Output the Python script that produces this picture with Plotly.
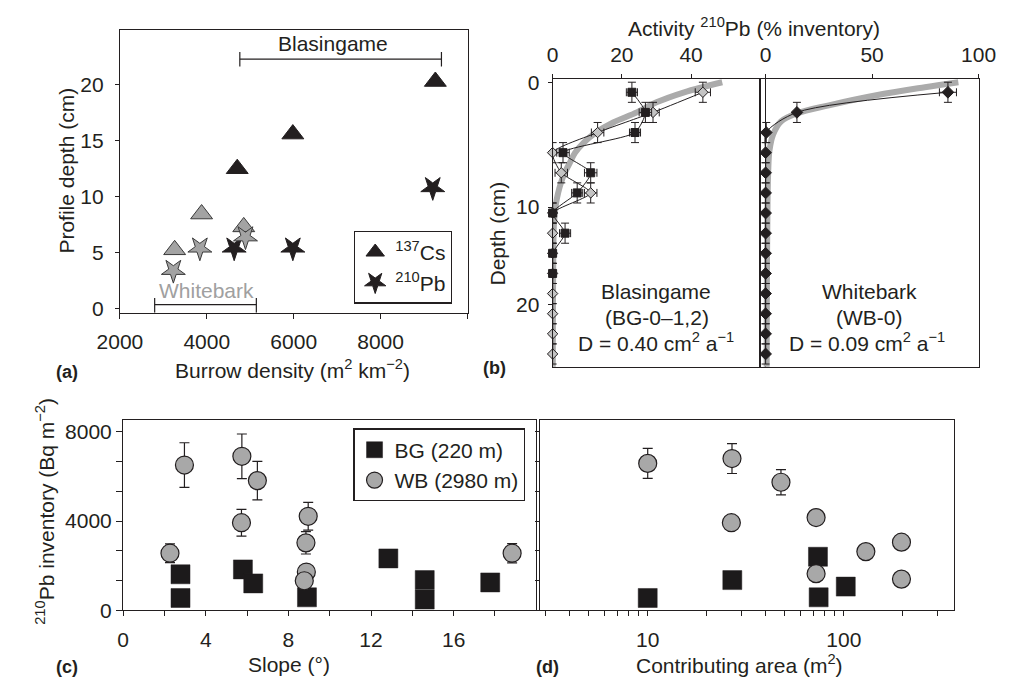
import plotly.graph_objects as go

W, H = 1011, 690
FONT = "Liberation Sans, Arial, Helvetica, sans-serif"
INK = "#231f20"
GRAY = "#a3a3a3"
LGRAY = "#c4c4c4"
MODEL = "#ababab"
FS = 21

# ---------------- data: panel (a) ----------------
cs_bg_density = [4700, 5980, 9260]
cs_bg_depth = [12.5, 15.6, 20.3]
cs_wb_density = [3260, 3880, 4850]
cs_wb_depth = [5.25, 8.45, 7.3]
pb_bg_density = [4630, 5980, 9200]
pb_bg_depth = [5.4, 5.4, 10.8]
pb_wb_density = [3230, 3840, 4890]
pb_wb_depth = [3.4, 5.4, 6.4]
bracket_bg_x = [4760, 9400]
bracket_bg_y = 22.3
bracket_wb_x = [2800, 5140]
bracket_wb_y = 0.35

# ---------------- data: panel (b) ----------------
bg_sq_depth = [1, 3, 5, 7, 9, 11, 13, 15, 17, 19]
bg_sq_act = [22.9, 26.8, 23.8, 3.0, 11.0, 7.1, 0.0, 3.6, 0.0, 0.0]
bg_sq_err = [1.6, 1.8, 1.6, 1.8, 1.8, 1.6, 0, 1.6, 0, 0]
bg_di_depth = [1, 3, 5, 7, 9, 11, 13, 15, 17, 19, 21, 23, 25, 27]
bg_di_act = [43.4, 29.0, 13.0, 0.0, 2.5, 11.0, 0, 0, 0, 0, 0, 0, 0, 0]
bg_di_err = [2.2, 1.8, 1.8, 0, 1.8, 1.8, 0, 0, 0, 0, 0, 0, 0, 0]
bg_model_depth = [0, 1, 2, 3, 4, 5, 6, 7, 8, 9, 10, 11, 12, 14, 17, 22, 28.3]
bg_model_act = [49, 38, 30, 24.3, 17.5, 12.5, 9, 6.5, 5, 3.5, 2.4, 1.6, 1.0, 0.4, 0.2, 0.1, 0.05]
wb_depth = [1, 3, 5, 7, 9, 11, 13, 15, 17, 19, 21, 23, 25, 27]
wb_act = [85.6, 14.7, 0.3, 0, 0, 0, 0, 0, 0, 0, 0, 0, 0, 0]
wb_err = [4, 0, 0, 0, 0, 0, 0, 0, 0, 0, 0, 0, 0, 0]
wb_model_depth = [0, 0.5, 1.3, 2.3, 3.1, 3.9, 5.2, 6.8, 9, 12, 20, 28.3]
wb_model_act = [90.5, 74.8, 52, 29.7, 14.7, 7.2, 3.5, 1.8, 1.2, 0.9, 0.6, 0.5]
depth_err = 1.0
depth_tickvals = [0, 12.4, 22.1]
depth_ticktext = ["0", "10", "20"]

# ---------------- data: panels (c), (d) ----------------
bg_slope = [2.78, 2.78, 5.80, 6.30, 8.90, 12.84, 14.60, 14.60, 17.77]
bg_inv_c = [1613, 550, 1832, 1204, 580, 2325, 1352, 480, 1248]
wb_slope = [2.97, 5.75, 6.50, 5.73, 8.96, 8.85, 8.87, 8.77, 2.27, 18.83]
wb_inv_c = [6513, 6905, 5815, 3926, 4215, 3023, 1714, 1322, 2558, 2558]
wb_err_c = [1000, 1000, 860, 600, 620, 500, 0, 0, 420, 430]
bg_area = [10, 27, 73.8, 74.4, 102.3]
bg_inv_d = [550, 1352, 2399, 580, 1060]
wb_area = [10, 26.9, 47.8, 26.7, 72.2, 129.5, 196.7, 72.2, 196.7]
wb_inv_d = [6587, 6805, 5741, 3926, 4157, 2630, 3053, 1640, 1396]
wb_err_d = [670, 670, 570, 0, 300, 0, 0, 0, 0]
inv_ticks = [0, 4000 / 3, 8000 / 3, 4000, 16000 / 3, 20000 / 3, 8000]
inv_ticktext = ["0", "", "", "4000", "", "", "8000"]
slope_ticks = [0, 2, 4, 6, 8, 10, 12, 14, 16, 18]
slope_ticktext = ["0", "", "4", "", "8", "", "12", "", "16", ""]
area_ticks = [3, 4, 5, 6, 7, 8, 9, 10, 20, 30, 40, 50, 60, 70, 80, 90, 100, 200, 300]
area_ticktext = ["" if v not in (10, 100) else str(v) for v in area_ticks]


def px(x):
    return x / W


def py(y):
    return 1 - y / H


fig = go.Figure()

# ---- (a) ----
fig.add_trace(go.Scatter(x=cs_bg_density, y=cs_bg_depth, mode="markers", name="<sup>137</sup>Cs",
                         marker=dict(symbol="triangle-up", size=19, color=INK, line=dict(color=INK, width=1)),
                         xaxis="x", yaxis="y", legend="legend"))
fig.add_trace(go.Scatter(x=cs_wb_density, y=cs_wb_depth, mode="markers", showlegend=False,
                         marker=dict(symbol="triangle-up", size=19, color=GRAY, line=dict(color="#3a3a3a", width=1)),
                         xaxis="x", yaxis="y"))
fig.add_trace(go.Scatter(x=pb_bg_density, y=pb_bg_depth, mode="markers", name="<sup>210</sup>Pb",
                         marker=dict(symbol="star", angle=180, size=18, color=INK, line=dict(color=INK, width=1)),
                         xaxis="x", yaxis="y", legend="legend"))
fig.add_trace(go.Scatter(x=pb_wb_density, y=pb_wb_depth, mode="markers", showlegend=False,
                         marker=dict(symbol="star", angle=180, size=18, color=GRAY, line=dict(color="#3a3a3a", width=1)),
                         xaxis="x", yaxis="y"))

# ---- (b) left ----
fig.add_trace(go.Scatter(x=bg_model_act, y=bg_model_depth, mode="lines", showlegend=False,
                         line=dict(color=MODEL, width=6, shape="spline"), cliponaxis=False,
                         xaxis="x2", yaxis="y2"))
fig.add_trace(go.Scatter(x=bg_di_act, y=bg_di_depth, mode="lines+markers", showlegend=False,
                         line=dict(color=INK, width=1, shape="spline", smoothing=0.6),
                         marker=dict(symbol="diamond", size=8, color=LGRAY, line=dict(color=INK, width=1)),
                         error_x=dict(type="data", array=bg_di_err, color=INK, thickness=1, width=4),
                         error_y=dict(type="constant", value=depth_err, color=INK, thickness=1, width=4),
                         cliponaxis=False, xaxis="x2", yaxis="y2"))
fig.add_trace(go.Scatter(x=bg_sq_act, y=bg_sq_depth, mode="lines+markers", showlegend=False,
                         line=dict(color=INK, width=1, shape="spline", smoothing=0.6),
                         marker=dict(symbol="square", size=8, color=INK, line=dict(color=INK, width=1)),
                         error_x=dict(type="data", array=bg_sq_err, color=INK, thickness=1, width=4),
                         error_y=dict(type="constant", value=depth_err, color=INK, thickness=1, width=4),
                         cliponaxis=False, xaxis="x2", yaxis="y2"))

# ---- (b) right ----
fig.add_trace(go.Scatter(x=wb_model_act, y=wb_model_depth, mode="lines", showlegend=False,
                         line=dict(color=MODEL, width=6, shape="spline"), cliponaxis=False,
                         xaxis="x3", yaxis="y3"))
fig.add_trace(go.Scatter(x=wb_act, y=wb_depth, mode="lines+markers", showlegend=False,
                         line=dict(color=INK, width=1, shape="spline", smoothing=0.8),
                         marker=dict(symbol="diamond", size=9, color=INK, line=dict(color=INK, width=1)),
                         error_x=dict(type="data", array=wb_err, color=INK, thickness=1, width=4),
                         error_y=dict(type="constant", value=depth_err, color=INK, thickness=1, width=4),
                         cliponaxis=False, xaxis="x3", yaxis="y3"))

# ---- (c) ----
fig.add_trace(go.Scatter(x=bg_slope, y=bg_inv_c, mode="markers", name="BG (220 m)",
                         marker=dict(symbol="square", size=19, color="#1c1a1b", line=dict(color=INK, width=0.5)),
                         xaxis="x4", yaxis="y4", legend="legend2"))
fig.add_trace(go.Scatter(x=wb_slope, y=wb_inv_c, mode="markers", name="WB (2980 m)",
                         marker=dict(symbol="circle", size=18, color="#a8a8a8", line=dict(color=INK, width=1.2)),
                         error_y=dict(type="data", array=wb_err_c, color=INK, thickness=1.2, width=5),
                         xaxis="x4", yaxis="y4", legend="legend2"))

# ---- (d) ----
fig.add_trace(go.Scatter(x=bg_area, y=bg_inv_d, mode="markers", showlegend=False,
                         marker=dict(symbol="square", size=19, color="#1c1a1b", line=dict(color=INK, width=0.5)),
                         xaxis="x5", yaxis="y5"))
fig.add_trace(go.Scatter(x=wb_area, y=wb_inv_d, mode="markers", showlegend=False,
                         marker=dict(symbol="circle", size=18, color="#a8a8a8", line=dict(color=INK, width=1.2)),
                         error_y=dict(type="data", array=wb_err_d, color=INK, thickness=1.2, width=5),
                         xaxis="x5", yaxis="y5"))

axis_common = dict(showline=True, linecolor=INK, linewidth=1.2, showgrid=False, zeroline=False,
                   ticks="outside", ticklen=5, tickcolor=INK, tickwidth=1.2,
                   tickfont=dict(size=FS, color=INK, family=FONT), mirror=True)

fig.update_layout(
    width=W, height=H, margin=dict(l=0, r=0, t=0, b=0),
    paper_bgcolor="white", plot_bgcolor="white",
    font=dict(family=FONT, size=FS, color=INK),
    xaxis=dict(axis_common, domain=[px(101), px(463.3)], range=[2000, 10000], anchor="y",
               tickvals=[2000, 4000, 6000, 8000, 10000], ticktext=["2000", "4000", "6000", "8000", ""],
               ticklabelstandoff=5),
    yaxis=dict(axis_common, domain=[py(313.3), py(22.7)], range=[-0.37, 24.9], anchor="x",
               tickvals=[0, 5, 10, 15, 20], ticklen=4, ticklabelstandoff=7),
    xaxis2=dict(axis_common, domain=[px(552), px(768.5)], range=[0, 60], anchor="y2", side="top",
                tickvals=[0, 20, 40], ticklen=4, ticklabelstandoff=3),
    yaxis2=dict(axis_common, domain=[py(369), py(73)], range=[28.28, -0.32], anchor="x2",
                tickvals=depth_tickvals, ticktext=depth_ticktext, ticklen=4, ticklabelstandoff=4),
    xaxis3=dict(axis_common, domain=[px(768.5), px(996)], range=[-2.48, 100], anchor="y3", side="top",
                tickvals=[0, 50, 100], ticklen=4, ticklabelstandoff=3, ticklabeloverflow="allow",
                zeroline=True, zerolinecolor=INK, zerolinewidth=1.2),
    yaxis3=dict(axis_common, domain=[py(369), py(73)], matches="y2", anchor="x3",
                showticklabels=False, ticks=""),
    xaxis4=dict(axis_common, domain=[px(104.3), px(535)], range=[0, 20], anchor="y4",
                tickvals=slope_ticks, ticktext=slope_ticktext, ticklabelstandoff=5),
    yaxis4=dict(axis_common, domain=[py(619.3), py(423.3)], range=[0, 8550], anchor="x4",
                tickvals=inv_ticks, ticktext=inv_ticktext, ticklen=6),
    xaxis5=dict(axis_common, domain=[px(539.3), px(970)], type="log", range=[0.453, 2.56], anchor="y5",
                tickvals=area_ticks, ticktext=area_ticktext, ticklabelstandoff=5),
    yaxis5=dict(axis_common, domain=[py(619.3), py(423.3)], matches="y4", anchor="x5",
                tickvals=inv_ticks, showticklabels=False, ticklen=4),
    legend=dict(x=px(345), y=py(229), xanchor="left", yanchor="top", bordercolor=INK, borderwidth=1.2,
                bgcolor="white", font=dict(size=FS, color=INK, family=FONT), tracegroupgap=0),
    legend2=dict(x=px(344.3), y=py(432.3), xanchor="left", yanchor="top", bordercolor=INK, borderwidth=1.2,
                 bgcolor="white", font=dict(size=FS, color=INK, family=FONT), tracegroupgap=0),
)

# brackets in panel (a)
line_style = dict(color=INK, width=1.2)
fig.add_shape(type="line", xref="x", yref="y", x0=bracket_bg_x[0], x1=bracket_bg_x[1],
              y0=bracket_bg_y, y1=bracket_bg_y, line=line_style)
for xv in bracket_bg_x:
    fig.add_shape(type="line", xref="x", yref="y", x0=xv, x1=xv, y0=bracket_bg_y - 0.65,
                  y1=bracket_bg_y + 0.65, line=line_style)
fig.add_shape(type="line", xref="x", yref="y", x0=bracket_wb_x[0], x1=bracket_wb_x[1],
              y0=bracket_wb_y, y1=bracket_wb_y, line=line_style)
for xv in bracket_wb_x:
    fig.add_shape(type="line", xref="x", yref="y", x0=xv, x1=xv, y0=-0.37,
                  y1=bracket_wb_y + 0.6, line=line_style)


def label(text, x, y, size=FS, color=INK, angle=0, bold=False):
    if bold:
        text = "<b>" + text + "</b>"
    fig.add_annotation(text=text, x=px(x), y=py(y), xref="paper", yref="paper", showarrow=False,
                       xanchor="center", yanchor="middle", textangle=angle,
                       font=dict(size=size, color=color, family=FONT))


label("Blasingame", 323, 37)
label("Whitebark", 191.7, 290, color="#a0a0a0")
label("Profile depth (cm)", 45, 167, angle=-90)
label("Burrow density (m<sup>2</sup> km<sup>\u22122</sup>)", 281, 371)
label("(a)", 46, 374, size=18, bold=True)

label("Activity <sup>210</sup>Pb (% inventory)", 762, 20)
label("Depth (cm)", 495, 232, angle=-90)
label("(b)", 491, 370, size=18, bold=True)
label("Blasingame", 660, 292)
label("(BG-0\u20131,2)", 661, 318)
label("D = 0.40 cm<sup>2</sup> a<sup>\u22121</sup>", 660, 343)
label("Whitebark", 882, 292)
label("(WB-0)", 882, 318)
label("D = 0.09 cm<sup>2</sup> a<sup>\u22121</sup>", 880, 343)

label("<sup>210</sup>Pb inventory (Bq m<sup>\u22122</sup>)", 23, 518, angle=-90)
label("Slope (\u00b0)", 277, 675)
label("(c)", 46, 678, size=18, bold=True)
label("Contributing area (m<sup>2</sup>)", 747, 675)
label("(d)", 547, 678, size=18, bold=True)

fig.write_html("out.html")
